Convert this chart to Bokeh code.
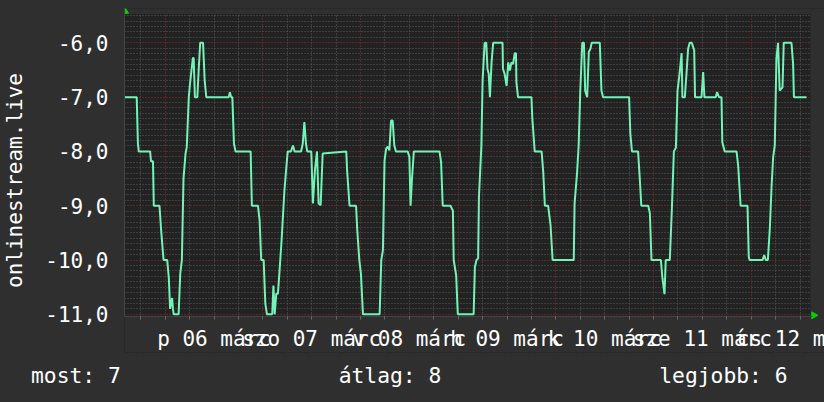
import math
from bokeh.plotting import figure
from bokeh.models import FixedTicker, Grid, Range1d, BoxAnnotation, Title
from bokeh.core.properties import value
from bokeh.embed import file_html
from bokeh.resources import INLINE
from jinja2 import Template

# ---- data: hours since Mar 5 14:00, ranking (negated position) ----
hours = [
    0.0, 3.0, 3.3, 3.5, 6.3, 6.5, 7.0, 7.2, 8.6, 9.0,
    9.6, 10.5, 10.9, 11.2, 11.7, 11.9, 12.1, 13.3, 13.7, 14.1,
    14.5, 15.0, 15.3, 15.8, 16.1, 16.8, 17.0, 17.3, 17.9, 18.2,
    18.6, 19.3, 19.7, 20.1, 25.6, 25.9, 26.2, 26.5, 26.9, 27.3,
    31.0, 31.3, 32.8, 33.2, 33.6, 34.2, 34.6, 35.0, 36.3, 36.6,
    36.9, 37.3, 37.7, 38.1, 38.6, 39.3, 40.1, 40.9, 41.4, 41.8,
    43.4, 43.8, 44.2, 44.6, 44.9, 45.9, 46.3, 46.8, 47.3, 47.7,
    48.2, 48.7, 54.5, 54.7, 55.3, 56.9, 57.2, 57.7, 58.1, 58.6,
    62.7, 63.1, 63.5, 63.9, 64.3, 64.7, 65.1, 65.5, 65.9, 66.3,
    66.7, 69.6, 70.0, 70.3, 70.6, 71.1, 77.4, 77.8, 78.2, 80.1,
    80.7, 80.9, 81.5, 81.9, 85.8, 86.1, 86.5, 86.9, 87.1, 87.7,
    88.0, 88.5, 88.9, 89.2, 89.5, 89.8, 90.2, 90.6, 92.9, 93.0,
    93.4, 93.9, 94.3, 94.7, 95.1, 95.5, 95.9, 96.2, 96.3, 96.7,
    100.0, 100.2, 100.8, 102.5, 102.9, 103.3, 104.1, 104.7, 105.2, 110.4,
    110.6, 111.2, 111.6, 112.0, 112.5, 112.9, 113.2, 113.7, 114.1, 114.5,
    114.8, 116.8, 117.2, 117.6, 124.0, 124.3, 124.7, 126.2, 126.6, 127.0,
    128.7, 129.1, 129.5, 131.8, 132.2, 132.7, 133.0, 134.0, 134.5, 135.0,
    135.5, 135.9, 136.4, 136.9, 137.1, 137.7, 138.1, 138.5, 138.9, 139.4,
    140.0, 140.2, 141.8, 142.2, 142.5, 145.3, 145.6, 146.1, 146.7, 146.9,
    147.5, 150.4, 150.8, 151.4, 153.1, 153.4, 153.6, 156.8, 157.2, 157.6,
    158.1, 158.6, 159.0, 159.4, 159.8, 160.2, 160.6, 161.0, 161.7, 162.0,
    163.9, 164.3, 164.5, 167.6,
]
rank = [
    -7.0, -7.0, -7.86, -8.0, -8.0, -8.18, -8.18, -9.0, -9.0, -9.45,
    -10.0, -10.0, -10.34, -10.9, -10.7, -10.9, -11.0, -11.0, -10.25, -10.0,
    -8.5, -8.04, -7.92, -7.0, -6.75, -6.28, -6.28, -7.0, -7.0, -6.54,
    -6.0, -6.0, -6.69, -7.0, -7.0, -6.91, -7.0, -7.0, -7.86, -8.0,
    -8.0, -9.0, -9.0, -9.27, -10.0, -10.0, -10.8, -11.0, -11.0, -10.47,
    -11.0, -10.62, -10.62, -10.2, -9.64, -8.72, -8.0, -8.0, -7.89, -8.0,
    -8.0, -7.86, -7.46, -7.86, -8.0, -8.0, -8.96, -8.35, -8.0, -8.96,
    -8.99, -8.04, -8.0, -8.35, -9.0, -9.0, -9.45, -10.0, -10.25, -11.0,
    -11.0, -10.0, -9.82, -8.17, -7.95, -7.91, -7.98, -7.43, -7.43, -7.89,
    -8.0, -8.0, -8.1, -9.0, -8.56, -8.0, -8.0, -8.2, -9.0, -9.0,
    -9.09, -10.0, -10.28, -11.0, -11.0, -10.13, -10.0, -9.97, -8.84, -7.89,
    -6.69, -6.0, -6.0, -6.48, -6.57, -7.0, -6.36, -6.0, -6.0, -6.48,
    -6.57, -6.79, -6.36, -6.51, -6.36, -6.39, -6.19, -6.19, -6.72, -7.0,
    -7.0, -7.37, -8.0, -8.0, -8.38, -9.0, -9.0, -9.36, -10.0, -10.0,
    -8.96, -8.41, -7.89, -6.88, -6.0, -6.0, -6.88, -7.0, -6.17, -6.11,
    -6.0, -6.0, -6.88, -7.0, -7.0, -7.67, -8.0, -8.0, -8.47, -9.0,
    -9.0, -9.14, -10.0, -10.0, -10.34, -10.63, -10.0, -10.0, -9.08, -8.0,
    -7.93, -6.88, -6.57, -6.19, -7.0, -7.0, -6.57, -6.11, -6.0, -6.0,
    -6.14, -7.0, -7.0, -6.54, -7.0, -7.0, -6.91, -7.0, -7.0, -7.83,
    -8.0, -8.0, -8.26, -9.0, -9.0, -9.94, -10.0, -10.0, -9.91, -10.0,
    -10.0, -9.39, -8.66, -8.1, -7.89, -6.29, -6.0, -6.88, -6.82, -6.0,
    -6.0, -6.39, -7.0, -7.0,
]

day_label_hours = [22, 46, 70, 94, 118, 142, 166]
day_labels = ["p 06 márc", "szo 07 márc", "v 08 márc", "h 09 márc",
              "k 10 márc", "sze 11 márc", "cs 12 márc"]
midnight_hours = [10, 34, 58, 82, 106, 130, 154]
y_ticks = [-11, -10, -9, -8, -7, -6]
y_tick_labels = ["-11,0", "-10,0", "-9,0", "-8,0", "-7,0", "-6,0"]
y_title = "onlinestream.live"
legend_texts = ["most: 7", "átlag: 8", "legjobb: 6"]

# ---- geometry / styling ----
W, H = 824, 402
LEFT, RIGHT, TOP, BOTTOM = 124, 0, 8, 50      # frame 124..824 x 8..352
PPH = 4.0694          # pixels per hour
PPU = 54.3            # pixels per rank unit
AXIS_PX = 316         # where the time axis is drawn
PLOT_RIGHT_PX, PLOT_TOP_PX = 810, 13.5
X0 = 0.0
X1 = X0 + (W - LEFT - RIGHT) / PPH
Y_AX = -11.04
Y1 = Y_AX + (AXIS_PX - TOP) / PPU
Y0 = Y_AX - (H - BOTTOM - AXIS_PX) / PPU

BACK = "#2f2f2f"
CANVAS = "#222222"
LINE = "#74f2b7"
TXT = "#ffffff"
ARROW = "#00d400"
FONT = "DejaVu Sans Mono"
FS = "21px"
NBSP = "\u00a0"


def px2x(px):
    return X0 + (px - LEFT) / PPH


def px2y(py):
    return Y_AX + (AXIS_PX - py) / PPU


p = figure(width=W, height=H, output_backend="svg", toolbar_location=None,
           x_range=Range1d(X0, X1), y_range=Range1d(Y0, Y1),
           min_border_left=LEFT, min_border_right=RIGHT,
           min_border_top=TOP, min_border_bottom=BOTTOM)
p.background_fill_color = CANVAS
p.border_fill_color = BACK
p.outline_line_color = None
p.xgrid.grid_line_color = None
p.ygrid.grid_line_color = None

minor_y = [round(-11 + 0.1 * i, 1) for i in range(56) if i % 10 != 0]
minor_x = [h for h in range(4, 169, 6) if h not in midnight_hours]
for dim, ticks, col in [(1, minor_y, "#5a5a5a"), (0, minor_x, "#5a5a5a"),
                        (1, y_ticks, "#8c3030"), (0, midnight_hours, "#8c3030")]:
    p.add_layout(Grid(dimension=dim, ticker=FixedTicker(ticks=ticks),
                      grid_line_color=col, grid_line_dash="1 2"))

# areas of the frame that lie outside the graph area
for kw in (dict(bottom=px2y(PLOT_TOP_PX)), dict(left=px2x(PLOT_RIGHT_PX)),
           dict(top=px2y(AXIS_PX))):
    p.add_layout(BoxAnnotation(fill_color=BACK, fill_alpha=1, line_color=None,
                               level="underlay", **kw))

xa = p.xaxis[0]
xa.fixed_location = Y_AX
xa.bounds = (X0, px2x(812))
xa.ticker = FixedTicker(ticks=[], minor_ticks=sorted(minor_x + midnight_hours))
xa.major_tick_line_color = None
xa.major_tick_out = 0
xa.major_label_standoff = 0
xa.major_label_text_font_size = "0px"
xa.minor_tick_line_color = "#6a6a6a"
xa.minor_tick_out = 3
xa.minor_tick_in = 0
xa.axis_line_color = "#454545"

ya = p.yaxis[0]
ya.bounds = (Y_AX, Y1)
ya.ticker = FixedTicker(ticks=y_ticks)
ya.major_label_overrides = {v: t for v, t in zip(y_ticks, y_tick_labels)}
ya.major_tick_line_color = None
ya.major_tick_out = 0
ya.major_tick_in = 0
ya.minor_tick_line_color = None
ya.axis_line_color = "#454545"
ya.major_label_standoff = 16
ya.major_label_text_font = FONT
ya.major_label_text_font_size = FS
ya.major_label_text_color = TXT
ya.axis_label = y_title
ya.axis_label_text_font = FONT
ya.axis_label_text_font_size = FS
ya.axis_label_text_font_style = "normal"
ya.axis_label_text_color = TXT
ya.axis_label_standoff = 15

p.line(hours, rank, line_color=LINE, line_width=2)

# day labels (centred at noon of each day)
p.text(x=day_label_hours, y=[px2y(338.3)] * len(day_labels), text=day_labels,
       text_font=value(FONT), text_font_size=value(FS), text_color=TXT,
       text_align="center", text_baseline="alphabetic")

# axis arrows
p.scatter(x=[px2x(124.5)], y=[px2y(10.8)], marker="triangle", size=7,
          fill_color=ARROW, line_color=ARROW)
p.scatter(x=[px2x(813.3)], y=[px2y(314.8)], marker="triangle", size=7,
          angle=-math.pi / 2, fill_color=ARROW, line_color=ARROW)

# summary line under the chart (monospace, padded to the columns of the original)
summary = (legend_texts[0] + NBSP * 17 + legend_texts[1] + NBSP * 17 + legend_texts[2])
p.add_layout(Title(text=summary, align="left", offset=30.5 - LEFT, standoff=16,
                   text_font=FONT, text_font_size="21.3px", text_font_style="normal",
                   text_color=TXT), "below")

TEMPLATE = Template("""{% extends base %}
{% block preamble %}<style>html,body{margin:0 !important;padding:0;background:#2f2f2f;overflow:hidden;}</style>{% endblock %}
{% block postamble %}<style>html,body{margin:0 !important;padding:0;background:#2f2f2f;overflow:hidden;}</style>{% endblock %}""")

open("out.html", "w").write(file_html(p, INLINE, title="onlinestream.live", template=TEMPLATE))
